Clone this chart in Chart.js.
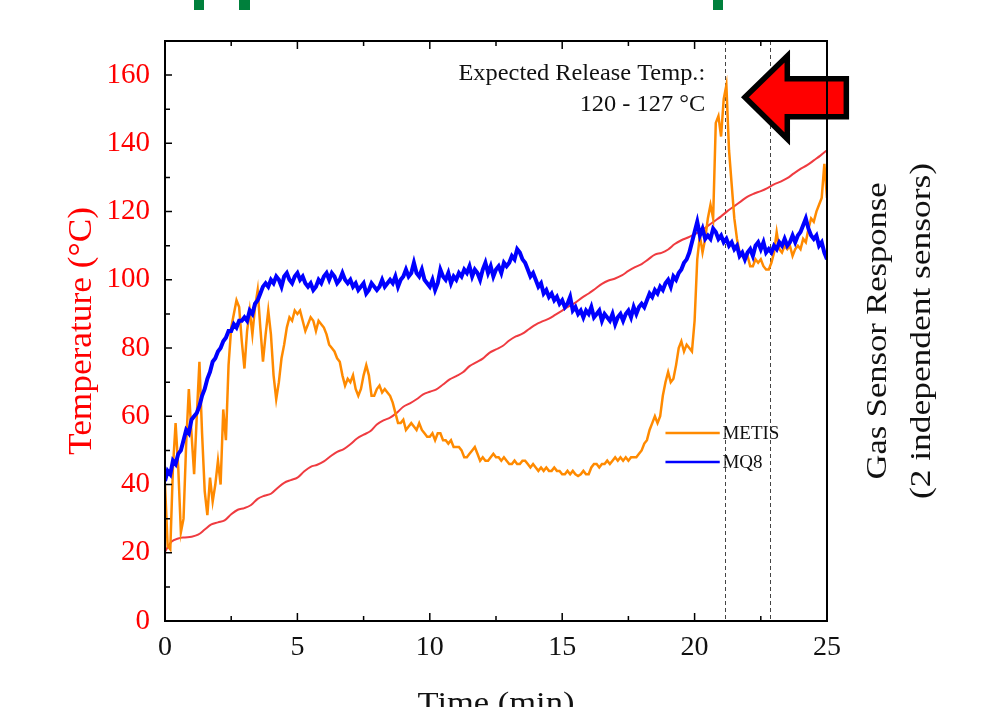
<!DOCTYPE html>
<html><head><meta charset="utf-8">
<script src="https://cdn.jsdelivr.net/npm/chart.js@4.4.0/dist/chart.umd.min.js"></script>
<style>html,body{margin:0;padding:0;background:#fff;overflow:hidden}#wrap{width:982px;height:707px;position:relative}</style>
</head><body><div id="wrap"><canvas id="c" width="982" height="707"></canvas></div>
<script>
// ---- data ----
const timeMin = [
0,0.1,0.2,0.3,0.4,0.5,0.6,0.7,0.8,0.9,
1,1.1,1.2,1.3,1.4,1.5,1.6,1.7,1.8,1.9,
2,2.1,2.2,2.3,2.4,2.5,2.6,2.7,2.8,2.9,
3,3.1,3.2,3.3,3.4,3.5,3.6,3.7,3.8,3.9,
4,4.1,4.2,4.3,4.4,4.5,4.6,4.7,4.8,4.9,
5,5.1,5.2,5.3,5.4,5.5,5.6,5.7,5.8,5.9,
6,6.1,6.2,6.3,6.4,6.5,6.6,6.7,6.8,6.9,
7,7.1,7.2,7.3,7.4,7.5,7.6,7.7,7.8,7.9,
8,8.1,8.2,8.3,8.4,8.5,8.6,8.7,8.8,8.9,
9,9.1,9.2,9.3,9.4,9.5,9.6,9.7,9.8,9.9,
10,10.1,10.2,10.3,10.4,10.5,10.6,10.7,10.8,10.9,
11,11.1,11.2,11.3,11.4,11.5,11.6,11.7,11.8,11.9,
12,12.1,12.2,12.3,12.4,12.5,12.6,12.7,12.8,12.9,
13,13.1,13.2,13.3,13.4,13.5,13.6,13.7,13.8,13.9,
14,14.1,14.2,14.3,14.4,14.5,14.6,14.7,14.8,14.9,
15,15.1,15.2,15.3,15.4,15.5,15.6,15.7,15.8,15.9,
16,16.1,16.2,16.3,16.4,16.5,16.6,16.7,16.8,16.9,
17,17.1,17.2,17.3,17.4,17.5,17.6,17.7,17.8,17.9,
18,18.1,18.2,18.3,18.4,18.5,18.6,18.7,18.8,18.9,
19,19.1,19.2,19.3,19.4,19.5,19.6,19.7,19.8,19.9,
20,20.1,20.2,20.3,20.4,20.5,20.6,20.7,20.8,20.9,
21,21.1,21.2,21.3,21.4,21.5,21.6,21.7,21.8,21.9,
22,22.1,22.2,22.3,22.4,22.5,22.6,22.7,22.8,22.9,
23,23.1,23.2,23.3,23.4,23.5,23.6,23.7,23.8,23.9,
24,24.1,24.2,24.3,24.4,24.5,24.6,24.7,24.8,24.9,
25];

const metis = [
40,22,21,45,58,45,26,30,52,68,
55,43,60,76,55,38,31,42,35,40,
47,40,62,53,75,86,90,94,92,82,
74,85,91,84,92,97,86,76,84,91,
84,72,65,70,77,81,86,89,88,91,
90,91,88,85,87,89,88,85,88,87,
86,84,81,80,79,77,76,72,69,71,
70,72,68,66,68,72,75,72,66,66,
68,69,67,68,67,66,64,61,58,58,
59,56,57,58,57,56,58,56,55,54,
54,55,53,55,55,53,53,52,53,51,
51,51,50,48,48,49,50,51,49,47,
48,47,47,48,49,48,48,47,48,47,
46,46,47,46,46,47,47,46,45,46,
45,44,45,44,45,44,44,45,44,44,
43,43,44,43,44,43,42.5,43,44,43,
43,45,46,46,45,46,46,47,46,47,
48,47,48,47,48,47,48,48,48,49,
50,52,53,56,58,60,58,60,66,70,
73,70,71,75,80,82,79,81,80,79,
88,106,113,108,112,118,122,118,146,148,
142,153,157,138,128,118,112,108,107,106,
107,104,104,106,105,106,104,103,103,105,
108,114,109,108,110,109,110,107,109,110,
109,112,111,115,118,117,120,122,124,134,
124];

const mq8 = [
41,44,43,47,46,49,50,53,56,55,
59,60,61,63,66,68,71,73,76,77,
79,80,82,83,85,85,87,86,88,88,
89,88,91,90,93,94,96,98,99,98,
100,99,101,100,98,101,102,100,99,101,
102,100,101,99,98,99,97,98,100,99,
101,102,100,102,101,99,100,102,100,99,
100,98,99,97,98,99,96,97,99,98,
97,98,100,98,99,100,99,101,98,100,
101,103,101,102,105,102,101,103,100,99,
98,100,97,99,103,101,100,102,99,101,
100,102,101,103,102,104,101,103,102,100,
103,105,102,104,101,103,104,102,105,104,
105,107,106,109,108,106,105,103,101,102,
100,98,99,96,97,95,96,94,95,93,
94,92,93,95,91,92,90,91,89,91,
90,92,89,90,91,88,90,89,88,90,
87,89,90,88,90,91,89,92,90,92,
93,92,94,96,95,97,96,98,97,99,
100,98,101,100,102,103,105,106,108,111,
114,117,113,115,112,113,112,115,114,112,
113,111,112,110,111,109,110,107,108,106,
108,109,107,110,111,109,111,108,109,108,
110,109,111,110,112,110,111,113,111,113,
114,116,118,115,113,112,113,110,111,108,
106];

const tempTime = [
0,0.25,0.5,0.75,1,1.25,1.5,1.75,2,2.25,2.5,2.75,3,3.25,3.5,3.75,4,4.25,4.5,4.75,
5,5.25,5.5,5.75,6,6.25,6.5,6.75,7,7.25,7.5,7.75,8,8.25,8.5,8.75,9,9.25,9.5,9.75,
10,10.25,10.5,10.75,11,11.25,11.5,11.75,12,12.25,12.5,12.75,13,13.25,13.5,13.75,14,14.25,14.5,14.75,
15,15.25,15.5,15.75,16,16.25,16.5,16.75,17,17.25,17.5,17.75,18,18.25,18.5,18.75,19,19.25,19.5,19.75,
20,20.25,20.5,20.75,21,21.25,21.5,21.75,22,22.25,22.5,22.75,23,23.25,23.5,23.75,24,24.25,24.5,24.75,25];

const temperature = [
20.3,23.3,24.2,24.5,24.7,25.3,26.8,28.3,28.9,29.5,31.3,32.6,33.1,34.0,35.8,36.7,37.3,39.0,40.5,41.3,
42.0,43.8,45.2,45.8,46.8,48.3,49.6,50.4,51.8,53.5,54.6,55.6,57.6,58.8,59.6,61.0,62.8,63.8,65.0,66.4,
67.2,67.9,69.3,70.8,71.8,72.9,74.7,75.8,76.9,78.6,79.6,80.6,82.2,83.4,84.2,85.6,86.9,87.8,88.6,89.8,
91.0,92.2,93.3,94.8,96.0,97.4,98.8,99.8,100.4,101.3,102.6,103.7,104.6,106.0,107.4,107.9,108.9,110.5,111.6,112.4,
113.4,114.4,115.8,117.2,118.6,120.2,121.6,123.0,124.4,125.3,126.0,126.9,128.0,128.8,129.8,131.2,132.5,133.6,135.0,136.4,138.0];

const releaseTimes = [21.15, 22.85];          // where temperature reaches 120 and 127 °C
const xTicks = [0,5,10,15,20,25];
const yTicks = [0,20,40,60,80,100,120,140,160];
const seriesNames = ['METIS','MQ8','Temperature'];
const noteLines = ['Expected Release Temp.:','120 - 127 °C'];

// ---- styles ----
const FONT = '"Liberation Serif", "DejaVu Serif", serif';
const ORANGE = '#ff8a00', BLUE = '#0000ff', REDLINE = '#ef3b40';

const toPts = (xs, ys) => xs.map((t,i)=>({x:t, y:ys[i]}));

function stretchText(ctx, txt, x, y, sx){
  ctx.save(); ctx.translate(x,y); ctx.scale(sx,1); ctx.fillText(txt,0,0); ctx.restore();
}

const decor = {
  id:'decor',
  beforeDatasetsDraw(chart){
    const {ctx, chartArea:a, scales:{x}} = chart;
    ctx.save();
    ctx.strokeStyle='#444'; ctx.lineWidth=1; ctx.setLineDash([4,3]);
    releaseTimes.forEach(t=>{
      const px=Math.round(x.getPixelForValue(t))+0.5;
      ctx.beginPath(); ctx.moveTo(px,a.top); ctx.lineTo(px,a.bottom); ctx.stroke();
    });
    ctx.restore();
  },
  afterDatasetsDraw(chart){
    const {ctx, chartArea:a, scales:{x,y}} = chart;
    const X=v=>x.getPixelForValue(v), Y=v=>y.getPixelForValue(v);
    ctx.save();
    // arrow (in data units)
    ctx.beginPath();
    ctx.moveTo(X(21.9),Y(153.5));
    ctx.lineTo(X(23.5),Y(165.6));
    ctx.lineTo(X(23.5),Y(158.9));
    ctx.lineTo(X(25.73),Y(158.9));
    ctx.lineTo(X(25.73),Y(147.8));
    ctx.lineTo(X(23.5),Y(147.8));
    ctx.lineTo(X(23.5),Y(141.3));
    ctx.closePath();
    ctx.fillStyle='#ff0000'; ctx.fill();
    ctx.lineWidth=5.5; ctx.lineJoin='miter'; ctx.miterLimit=10; ctx.strokeStyle='#000'; ctx.stroke();

    // frame
    ctx.lineWidth=2; ctx.strokeStyle='#000';
    ctx.strokeRect(a.left, a.top, a.right-a.left, a.bottom-a.top);
    // inward ticks
    ctx.lineWidth=1.5;
    ctx.beginPath();
    for(let v=0; v<=25.001; v+=2.5){
      const px=X(v), len=(Math.abs(v/5-Math.round(v/5))<1e-6)?8:5;
      ctx.moveTo(px,a.bottom); ctx.lineTo(px,a.bottom-len);
      ctx.moveTo(px,a.top); ctx.lineTo(px,a.top+len);
    }
    for(let v=0; v<=170.001; v+=10){
      const py=Y(v), len=(v%20===0)?7:5;
      ctx.moveTo(a.left,py); ctx.lineTo(a.left+len,py);
    }
    ctx.stroke();

    // annotation text
    ctx.fillStyle='#111'; ctx.font='23px '+FONT; ctx.textAlign='right'; ctx.textBaseline='middle';
    stretchText(ctx, noteLines[0], X(20.4), Y(160.2), 1.06);
    stretchText(ctx, noteLines[1], X(20.4), Y(151.2), 1.06);

    // legend
    const ds=chart.data.datasets;
    [[0,55.1],[1,46.6]].forEach(([i,v])=>{
      ctx.strokeStyle=ds[i].borderColor; ctx.lineWidth=2.5;
      ctx.beginPath(); ctx.moveTo(X(18.9),Y(v)); ctx.lineTo(X(20.95),Y(v)); ctx.stroke();
      ctx.fillStyle='#111'; ctx.font='19px '+FONT; ctx.textAlign='left'; ctx.textBaseline='middle';
      ctx.fillText(ds[i].label, X(21.05), Y(v)+1);
    });

    // axis titles
    ctx.textAlign='center'; ctx.textBaseline='middle';
    ctx.fillStyle='#ff0000'; ctx.font='33px '+FONT;
    ctx.save(); ctx.translate(82,331); ctx.rotate(-Math.PI/2); stretchText(ctx,'Temperature (°C)',0,0,1.07); ctx.restore();
    ctx.fillStyle='#111'; ctx.font='30px '+FONT;
    ctx.save(); ctx.translate(878,331); ctx.rotate(-Math.PI/2); stretchText(ctx,'Gas Sensor Response',0,0,1.15); ctx.restore();
    ctx.save(); ctx.translate(922,331); ctx.rotate(-Math.PI/2); stretchText(ctx,'(2 independent sensors)',0,0,1.18); ctx.restore();
    ctx.font='30px '+FONT; ctx.textBaseline='alphabetic';
    stretchText(ctx,'Time (min)', (a.left+a.right)/2, 712, 1.15);

    // clipped green title fragments at the very top
    ctx.fillStyle='#00803c';
    ctx.fillRect(194,0,10,10); ctx.fillRect(239,0,11,10); ctx.fillRect(713,0,10,10);
    ctx.restore();
  }
};

new Chart(document.getElementById('c'), {
  type:'line',
  data:{datasets:[
    {label:seriesNames[0], data:toPts(timeMin, metis), borderColor:ORANGE, borderWidth:2.5, pointRadius:0, tension:0, order:2},
    {label:seriesNames[1], data:toPts(timeMin, mq8), borderColor:BLUE, borderWidth:4, pointRadius:0, tension:0, order:1},
    {label:seriesNames[2], data:toPts(tempTime, temperature), borderColor:REDLINE, borderWidth:2, pointRadius:0, tension:0.35, order:3}
  ]},
  options:{
    responsive:false, animation:false, events:[],
    layout:{padding:{left:0,right:155,top:41,bottom:0}},
    plugins:{legend:{display:false}, tooltip:{enabled:false}, title:{display:false}},
    scales:{
      x:{type:'linear', min:0, max:25,
         afterBuildTicks:s=>{s.ticks=xTicks.map(v=>({value:v}));},
         afterFit:s=>{s.height=86;},
         grid:{display:false}, border:{display:false},
         ticks:{color:'#111', font:{family:FONT,size:28}, padding:2, maxRotation:0}},
      y:{type:'linear', min:0, max:170,
         afterBuildTicks:s=>{s.ticks=yTicks.map(v=>({value:v}));},
         afterFit:s=>{s.width=165;},
         grid:{display:false}, border:{display:false},
         ticks:{color:'#ff0000', font:{family:FONT,size:29}, padding:7}}
    }
  },
  plugins:[decor]
});
</script></body></html>
